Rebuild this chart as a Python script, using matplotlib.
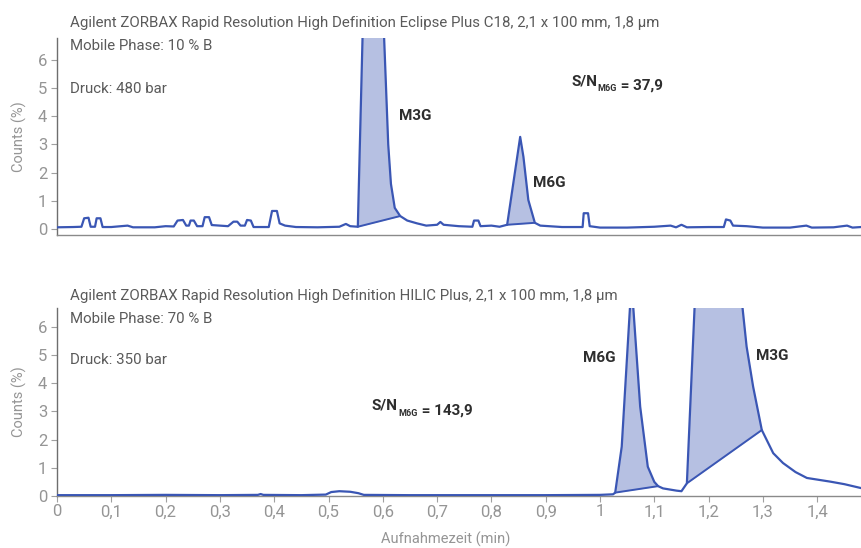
import numpy as np
import matplotlib
matplotlib.use("Agg")
import matplotlib.pyplot as plt

plt.rcParams['font.family'] = ['Roboto', 'DejaVu Sans']

# ---------------- data ----------------
top_time = [0.000, 0.030, 0.045, 0.050, 0.058, 0.062, 0.070, 0.073, 0.080, 0.084,
            0.100, 0.130, 0.140, 0.180, 0.200, 0.215, 0.222, 0.232, 0.238, 0.243,
            0.246, 0.252, 0.258, 0.268, 0.272, 0.280, 0.285, 0.300, 0.315, 0.325,
            0.332, 0.338, 0.346, 0.350, 0.357, 0.362, 0.390, 0.396, 0.405, 0.410,
            0.420, 0.440, 0.480, 0.520, 0.532, 0.540, 0.554, 0.572, 0.600, 0.610,
            0.615, 0.622, 0.632, 0.645, 0.663, 0.680, 0.700, 0.706, 0.712, 0.740,
            0.765, 0.768, 0.776, 0.780, 0.800, 0.815, 0.829, 0.853, 0.859, 0.868,
            0.880, 0.890, 0.930, 0.968, 0.970, 0.978, 0.981, 1.000, 1.050, 1.100,
            1.130, 1.140, 1.150, 1.160, 1.200, 1.228, 1.232, 1.240, 1.245, 1.270,
            1.300, 1.350, 1.380, 1.390, 1.430, 1.455, 1.465, 1.481]
top_counts = [0.06, 0.07, 0.08, 0.38, 0.40, 0.08, 0.08, 0.38, 0.38, 0.07,
              0.07, 0.12, 0.06, 0.06, 0.10, 0.09, 0.30, 0.32, 0.12, 0.12,
              0.30, 0.30, 0.10, 0.10, 0.42, 0.42, 0.14, 0.12, 0.10, 0.26,
              0.26, 0.12, 0.12, 0.32, 0.30, 0.07, 0.07, 0.64, 0.64, 0.20,
              0.12, 0.07, 0.06, 0.08, 0.18, 0.10, 0.08, 14.0, 8.0, 3.0,
              1.6, 0.75, 0.46, 0.30, 0.20, 0.12, 0.15, 0.25, 0.15, 0.10,
              0.08, 0.30, 0.30, 0.10, 0.12, 0.08, 0.15, 3.27, 2.56, 1.03,
              0.22, 0.12, 0.07, 0.07, 0.56, 0.56, 0.10, 0.05, 0.05, 0.08,
              0.12, 0.06, 0.15, 0.06, 0.07, 0.07, 0.34, 0.30, 0.12, 0.10,
              0.05, 0.05, 0.12, 0.05, 0.06, 0.12, 0.05, 0.07]
# integrated peaks: (start time, end time)
top_peaks = [(0.554, 0.632), (0.829, 0.880)]

bot_time = [0.000, 0.100, 0.200, 0.300, 0.370, 0.375, 0.380, 0.450, 0.495, 0.505,
            0.520, 0.540, 0.555, 0.565, 0.650, 0.800, 0.900, 1.000, 1.024, 1.028,
            1.040, 1.058, 1.074, 1.088, 1.100, 1.107, 1.116, 1.141, 1.150, 1.160,
            1.176, 1.220, 1.258, 1.270, 1.282, 1.298, 1.319, 1.337, 1.360, 1.381,
            1.424, 1.450, 1.481]
bot_counts = [0.03, 0.03, 0.04, 0.03, 0.04, 0.07, 0.04, 0.03, 0.05, 0.14,
              0.17, 0.15, 0.10, 0.04, 0.03, 0.03, 0.03, 0.04, 0.06, 0.12,
              1.75, 7.6, 3.17, 1.04, 0.50, 0.35, 0.27, 0.19, 0.17, 0.45,
              7.5, 12.0, 7.5, 5.3, 3.88, 2.34, 1.52, 1.17, 0.85, 0.64,
              0.51, 0.42, 0.28]
bot_peaks = [(1.028, 1.107), (1.160, 1.298)]

x_ticks = [0.0, 0.1, 0.2, 0.3, 0.4, 0.5, 0.6, 0.7, 0.8, 0.9, 1.0, 1.1, 1.2, 1.3, 1.4]
x_tick_labels = ["0", "0,1", "0,2", "0,3", "0,4", "0,5", "0,6", "0,7", "0,8", "0,9",
                 "1", "1,1", "1,2", "1,3", "1,4"]
y_ticks = [0, 1, 2, 3, 4, 5, 6]

top_title = "Agilent ZORBAX Rapid Resolution High Definition Eclipse Plus C18, 2,1 x 100 mm, 1,8 µm"
top_phase = "Mobile Phase: 10 % B"
top_druck = "Druck: 480 bar"
top_sn = "37,9"
bot_title = "Agilent ZORBAX Rapid Resolution High Definition HILIC Plus, 2,1 x 100 mm, 1,8 µm"
bot_phase = "Mobile Phase: 70 % B"
bot_druck = "Druck: 350 bar"
bot_sn = "143,9"

# ---------------- style ----------------
W, H = 861, 548
LINE = "#3a56b4"
FILL = "#b6c0e2"
TICK = "#959595"
SPINE = "#6e6e6e"
DARK = "#2e2e2e"
GREY = "#5a5a5a"

fig = plt.figure(figsize=(W / 100, H / 100), dpi=100)


def px_axes(l, t, r, b):
    return fig.add_axes([l / W, 1 - b / H, (r - l) / W, (b - t) / H])


def ftext(x, y, s, **kw):
    return fig.text(x / W, 1 - y / H, s, **kw)


ax1 = px_axes(57, 38, 861, 235)
ax2 = px_axes(57, 308, 861, 496)

xmax = (861 - 57) / 543.0


def draw(ax, t, c, peaks, ylim):
    t = np.asarray(t)
    c = np.asarray(c)
    for (s, e) in peaks:
        grid = np.linspace(s, e, 400)
        curve = np.interp(grid, t, c)
        ys, ye = np.interp([s, e], t, c)
        base = ys + (ye - ys) * (grid - s) / (e - s)
        ax.fill_between(grid, base, curve, color=FILL, lw=0, zorder=1)
        ax.plot([s, e], [ys, ye], color=LINE, lw=1.4, zorder=2, solid_capstyle='round')
    ax.plot(t, c, color=LINE, lw=1.6, zorder=3, solid_joinstyle='round')
    ax.set_xlim(0, xmax)
    ax.set_ylim(*ylim)
    ax.set_yticks(y_ticks)
    ax.set_yticklabels([str(v) for v in y_ticks])
    for sp in ("top", "right"):
        ax.spines[sp].set_visible(False)
    ax.spines["left"].set_color(SPINE)
    ax.spines["bottom"].set_color("#8a8a8a")
    ax.spines["left"].set_linewidth(1.0)
    ax.spines["bottom"].set_linewidth(1.0)
    ax.tick_params(axis="y", colors="#a0a0a0", labelcolor=TICK, length=4, width=0.8,
                   labelsize=12, pad=3)
    ax.set_ylabel("Counts (%)", fontsize=10.5, color=TICK)
    ax.yaxis.set_label_coords(-30 / 804, 0.5)


draw(ax1, top_time, top_counts, top_peaks, (-0.213, 6.78))
draw(ax2, bot_time, bot_counts, bot_peaks, (0, 6.67))

ax1.set_xticks([])
ax2.set_xticks(x_ticks)
ax2.set_xticklabels(x_tick_labels)
ax2.tick_params(axis="x", colors="#a0a0a0", labelcolor=TICK, length=4, width=0.8,
                labelsize=12, pad=2)
ax2.set_xlabel("Aufnahmezeit (min)", fontsize=10.5, color=TICK)
ax2.xaxis.set_label_coords((446 - 57) / 804, -(532 - 496) / 188)

# ---------------- texts ----------------
for (y, s) in [(23, top_title), (46, top_phase), (89, top_druck),
               (296, bot_title), (319, bot_phase), (360, bot_druck)]:
    ftext(70, y, s, fontsize=10.8, color=GREY, va="center")

for (x, y, s) in [(399, 116, "M3G"), (533, 183, "M6G"),
                  (583, 358, "M6G"), (756, 356, "M3G")]:
    ftext(x, y, s, fontsize=11, color=DARK, fontweight="bold", va="center")


def sn_label(x, y, value):
    t1 = ftext(x, y, "S/N", fontsize=11, color=DARK, fontweight="bold",
               va="baseline")
    a = plt.annotate("M6G", xy=(1.0, 0.0), xycoords=t1, xytext=(0.5, -2.5),
                     textcoords="offset points", fontsize=6.5, color=DARK,
                     fontweight="bold", va="baseline", ha="left")
    plt.annotate(" = " + value, xy=(1.0, 0.0), xycoords=a, xytext=(0, 2.5),
                 textcoords="offset points", fontsize=11, color=DARK,
                 fontweight="bold", va="baseline", ha="left")


sn_label(571, 85, top_sn)
sn_label(372, 410, bot_sn)

fig.savefig("out.png", dpi=100)
